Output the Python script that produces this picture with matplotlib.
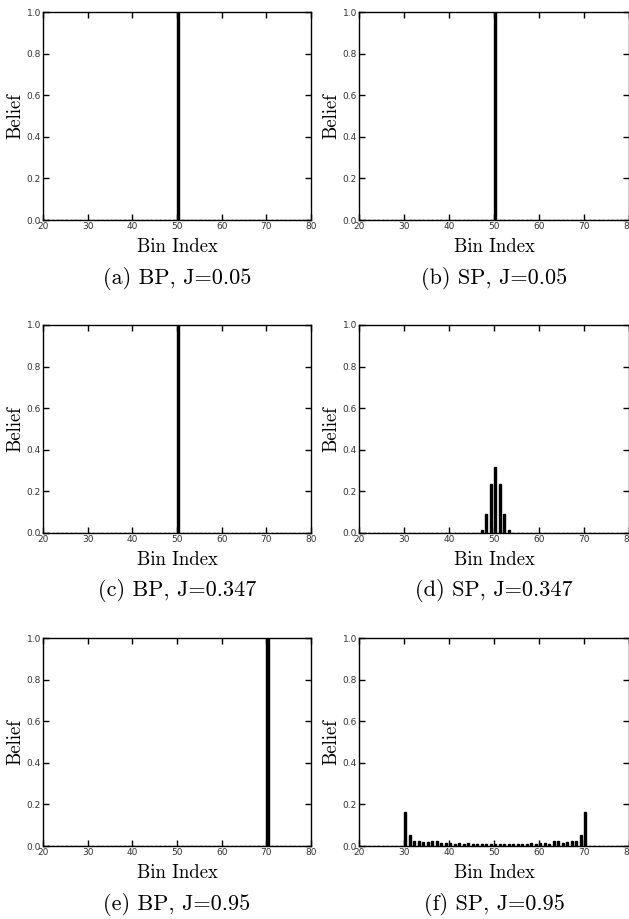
import numpy as np
import matplotlib
matplotlib.use('Agg')
import matplotlib.pyplot as plt

# bins of the belief histogram
bins = np.arange(0, 101)

# non-zero beliefs for each panel: {bin: value}
bp_005 = {50: 1.0}
sp_005 = {50: 1.0}
bp_0347 = {50: 1.0}
sp_0347 = {47: 0.016, 48: 0.093, 49: 0.235, 50: 0.316, 51: 0.235, 52: 0.093, 53: 0.016}
bp_095 = {70: 1.0}
sp_095_bins = list(range(30, 71))
sp_095_vals = [0.165, 0.053, 0.026, 0.024, 0.019, 0.018, 0.024, 0.024, 0.013, 0.016,
               0.016, 0.011, 0.013, 0.010, 0.013, 0.010, 0.008, 0.008, 0.010, 0.010,
               0.010, 0.008, 0.010, 0.010, 0.011, 0.008, 0.011, 0.010, 0.013, 0.010,
               0.013, 0.013, 0.010, 0.023, 0.023, 0.016, 0.019, 0.023, 0.026, 0.053,
               0.165]
sp_095 = dict(zip(sp_095_bins, sp_095_vals))

panels = [bp_005, sp_005, bp_0347, sp_0347, bp_095, sp_095]
captions = ['(a) BP, J=0.05', '(b) SP, J=0.05',
            '(c) BP, J=0.347', '(d) SP, J=0.347',
            '(e) BP, J=0.95', '(f) SP, J=0.95']

W, H = 629, 919
fig = plt.figure(figsize=(W / 100, H / 100), dpi=100)

lefts = [43, 359]
widths = [268, 270]
tops = [12, 325, 638]
ax_h = 208

for k, (vals, cap) in enumerate(zip(panels, captions)):
    r, c = k // 2, k % 2
    x0 = lefts[c] / W
    y0 = 1 - (tops[r] + ax_h) / H
    ax = fig.add_axes([x0, y0, widths[c] / W, ax_h / H])
    heights = np.array([vals.get(b, 0.0) for b in bins])
    ax.bar(bins, heights, width=0.5, align='edge', color='k', edgecolor='k', linewidth=1)
    ax.set_xlim(20, 80)
    ax.set_ylim(0, 1)
    ax.set_xticks(np.arange(20, 81, 10))
    ax.set_yticks(np.arange(0, 1.01, 0.2))
    ax.set_yticklabels(['%.1f' % v for v in np.arange(0, 1.01, 0.2)])
    ax.tick_params(direction='in', top=True, right=True, length=4, width=1,
                   labelsize=6.5, pad=1.5, labelcolor='#333333')
    for s in ax.spines.values():
        s.set_linewidth(1)
    ax.set_xlabel('Bin Index', fontfamily='cmr10', fontsize=13.5, labelpad=5)
    ax.set_ylabel('Belief', fontfamily='cmr10', fontsize=13.5, labelpad=1.5)
    cx = (lefts[c] + widths[c] / 2) / W
    cy = 1 - (tops[r] + ax_h + 58) / H
    fig.text(cx, cy, cap, fontfamily='cmr10', fontsize=16, ha='center', va='center')

fig.savefig('out.png', dpi=100)
